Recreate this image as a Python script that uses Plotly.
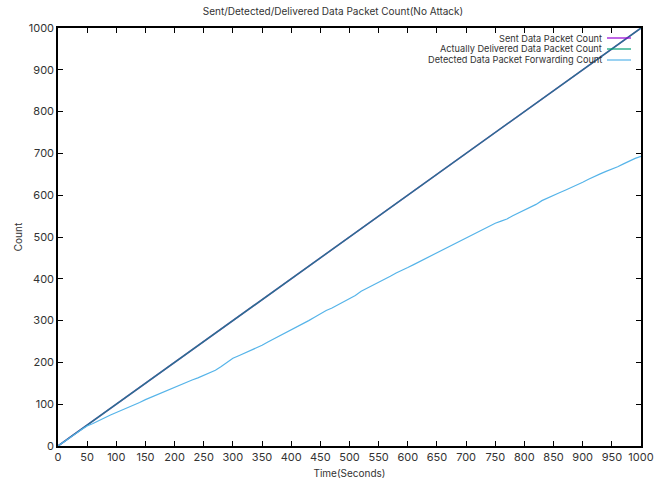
import plotly.graph_objects as go

# Time axis (seconds) and packet counts
time_sent = [0, 50, 100, 150, 200, 250, 300, 350, 400, 450, 500, 550, 600, 650, 700, 750, 800, 850, 900, 950, 1000]
sent_count = [0, 50, 100, 150, 200, 250, 300, 350, 400, 450, 500, 550, 600, 650, 700, 750, 800, 850, 900, 950, 1000]
delivered_count = [0, 50, 100, 150, 200, 250, 300, 350, 400, 450, 500, 550, 600, 650, 700, 750, 800, 850, 900, 950, 1000]

time_detected = list(range(0, 1001, 10))
detected_count = [
    0, 9, 19, 29, 39, 48, 54, 61, 68, 74,
    80, 86, 92, 97, 104, 111, 117, 123, 128, 134,
    141, 146, 152, 158, 163, 169, 175, 181, 190, 201,
    210, 216, 222, 229, 234, 241, 249, 256, 264, 271,
    279, 286, 292, 300, 308, 317, 324, 330, 337, 345,
    352, 360, 370, 377, 383, 390, 398, 406, 414, 420,
    427, 434, 441, 449, 456, 463, 469, 476, 484, 491,
    498, 505, 512, 519, 526, 533, 538, 543, 551, 558,
    563, 570, 578, 587, 594, 600, 606, 612, 618, 624,
    631, 638, 645, 651, 657, 662, 668, 675, 682, 688,
    693,
]

series_names = [
    "Sent Data Packet Count",
    "Actually Delivered Data Packet Count",
    "Detected Data Packet Forwarding Count",
]
series_colors = ["#9400d3", "#009e73", "#56b4e9"]

x_ticks = list(range(0, 1001, 50))
y_ticks = list(range(0, 1001, 100))

FONT = "Inter, Liberation Sans, sans-serif"
TEXT = "#333333"

fig = go.Figure()
fig.add_trace(go.Scatter(x=time_sent, y=sent_count, mode="lines",
                         line=dict(color=series_colors[0], width=1.5), name=series_names[0]))
# the delivered line sits on the sent line; partial opacity lets both show through
fig.add_trace(go.Scatter(x=time_sent, y=delivered_count, mode="lines", opacity=0.72,
                         line=dict(color=series_colors[1], width=1.5), name=series_names[1]))
fig.add_trace(go.Scatter(x=time_detected, y=detected_count, mode="lines",
                         line=dict(color=series_colors[2], width=1.2), name=series_names[2]))

axis_common = dict(
    showgrid=False, zeroline=False, showline=True, linecolor="black", linewidth=1.5,
    mirror="allticks", ticks="inside", ticklen=5, tickwidth=1, tickcolor="black",
    tickfont=dict(family=FONT, size=11, color=TEXT), automargin=False,
)

fig.update_layout(
    width=666, height=479,
    margin=dict(l=58, r=25, t=28, b=33),
    paper_bgcolor="white", plot_bgcolor="white",
    showlegend=False,
    title=dict(text="Sent/Detected/Delivered Data Packet Count(No Attack)",
               x=0.5, xanchor="center", y=1 - 11 / 479, yanchor="middle",
               font=dict(family=FONT, size=10, color=TEXT)),
    xaxis=dict(range=[0, 1000], tickvals=x_ticks, **axis_common,
               title=dict(text="Time(Seconds)", standoff=9,
                          font=dict(family=FONT, size=10, color=TEXT))),
    yaxis=dict(range=[0, 1000], tickvals=y_ticks, **axis_common,
               title=dict(text="Count", standoff=4,
                          font=dict(family=FONT, size=10, color=TEXT))),
)

# Key in the top-right corner: right-aligned labels with sample lines after them
key_rows_px = [38, 49, 60]
plot_top, plot_h = 28, 479 - 28 - 33
plot_left, plot_w = 58, 666 - 58 - 25
for name, color, ypx in zip(series_names, series_colors, key_rows_px):
    yp = 1 - (ypx - plot_top) / plot_h
    fig.add_annotation(xref="paper", yref="paper", x=(603 - plot_left) / plot_w, y=yp,
                       xanchor="right", yanchor="middle", showarrow=False, text=name,
                       borderpad=0, font=dict(family=FONT, size=9.2, color=TEXT))
    fig.add_shape(type="line", xref="paper", yref="paper",
                  x0=(607 - plot_left) / plot_w, x1=(631 - plot_left) / plot_w, y0=yp, y1=yp,
                  line=dict(color=color, width=1.2))

fig.write_html("out.html")
